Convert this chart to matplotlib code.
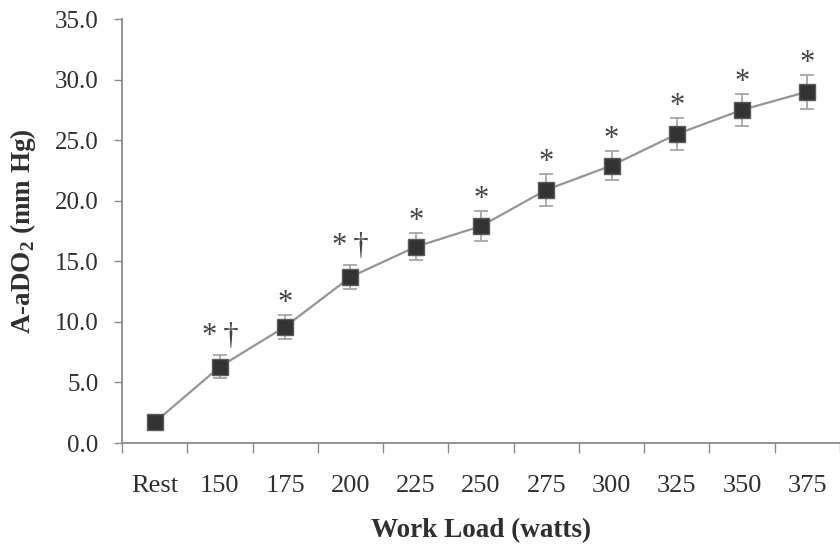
import matplotlib
matplotlib.use("Agg")
import matplotlib.pyplot as plt
import numpy as np

# A-aDO2 across work loads (mean ± error)
categories = ["Rest", "150", "175", "200", "225", "250", "275", "300", "325", "350", "375"]
a_ado2 = [1.7, 6.3, 9.6, 13.7, 16.2, 17.9, 20.9, 22.9, 25.5, 27.5, 29.0]
a_ado2_err = [0.3, 0.95, 1.0, 0.97, 1.1, 1.25, 1.3, 1.2, 1.35, 1.3, 1.4]
sig_labels = ["", "*\u2009\u2020", "*", "*\u2009\u2020", "*", "*", "*", "*", "*", "*", "*"]
y_ticks = [0, 5, 10, 15, 20, 25, 30, 35]

plt.rcParams["font.family"] = ["Liberation Serif", "DejaVu Serif"]
plt.rcParams["mathtext.fontset"] = "custom"
plt.rcParams["mathtext.rm"] = "Liberation Serif"
plt.rcParams["mathtext.bf"] = "Liberation Serif:bold"

text_col = "#2f2f2f"
axis_col = "#8a8a8a"
line_col = "#959595"

fig = plt.figure(figsize=(8.4, 5.44), dpi=100)
ax = fig.add_axes([122 / 840, 101 / 544, 718 / 840, (443 - 19) / 544])

x = np.arange(len(categories))
ax.plot(x, a_ado2, color=line_col, lw=1.6, zorder=2)
ax.errorbar(x, a_ado2, yerr=a_ado2_err, fmt="none", ecolor="#a0a0a0",
            elinewidth=1.2, capsize=5, capthick=1.2, zorder=3)
ax.plot(x, a_ado2, ls="none", marker="s", markersize=11.5,
        markerfacecolor="#333333", markeredgecolor="#5a5a5a",
        markeredgewidth=1.0, zorder=4)

for xi, yi, ei, lab in zip(x, a_ado2, a_ado2_err, sig_labels):
    if not lab:
        continue
    off = 11 if "\u2020" in lab else 4
    ax.annotate(lab, (xi, yi + ei), xytext=(0, off), textcoords="offset pixels",
                ha="center", va="baseline", fontsize=22, color="#444444")

ax.set_xlim(-0.5, 10.445)
ax.set_ylim(0, 35)

ax.set_yticks(y_ticks)
ax.set_yticklabels([f"{v:.1f}" for v in y_ticks])
ax.set_xticks(np.arange(-0.5, len(categories), 1.0))
ax.set_xticklabels([])
ax.set_xticks(x, minor=True)
ax.set_xticklabels(categories, minor=True)

ax.tick_params(axis="y", direction="out", length=6, width=1.0, color=axis_col,
               labelsize=18, labelcolor=text_col, pad=11)
ax.tick_params(axis="x", which="major", direction="out", length=7, width=1.0,
               color=axis_col)
ax.tick_params(axis="x", which="minor", length=0, labelsize=19,
               labelcolor=text_col, pad=23)

for side in ("top", "right"):
    ax.spines[side].set_visible(False)
for side in ("left", "bottom"):
    ax.spines[side].set_color(axis_col)
    ax.spines[side].set_linewidth(1.3)

ax.set_xlabel("Work Load (watts)", fontsize=19.5, fontweight="bold",
              color=text_col, labelpad=15)
ax.set_ylabel(r"A-aDO$_\mathregular{2}$ (mm Hg)", fontsize=19.5,
              fontweight="bold", color=text_col, labelpad=12)

fig.savefig("out.png", dpi=100, facecolor="white")
